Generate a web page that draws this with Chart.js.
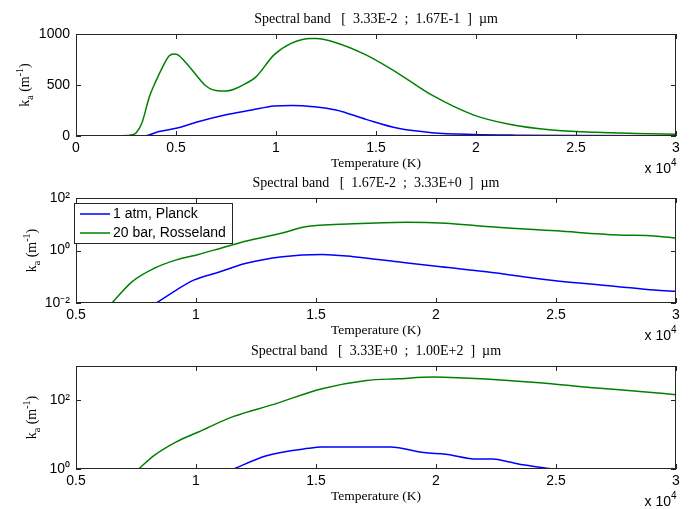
<!DOCTYPE html>
<html>
<head>
<meta charset="utf-8">
<script src="https://cdn.jsdelivr.net/npm/chart.js@4.4.1/dist/chart.umd.min.js"></script>
<style>
    html, body { margin: 0; padding: 0; background: #fff; }
    #wrap { position: relative; width: 691px; height: 509px; overflow: hidden; }
    canvas { position: absolute; left: 0; }
</style>
</head>
<body>
<div id="wrap">
    <canvas id="c1" width="691" height="180" style="top:0px"></canvas>
    <canvas id="c2" width="691" height="185" style="top:160px"></canvas>
    <canvas id="c3" width="691" height="179" style="top:330px"></canvas>
</div>
<script>
// series names
const seriesLabels = ['1 atm, Planck', '20 bar, Rosseland'];
const bandTitles = [
    'Spectral band   [  3.33E-2  ;  1.67E-1  ]  \u00b5m',
    'Spectral band   [  1.67E-2  ;  3.33E+0  ]  \u00b5m',
    'Spectral band   [  3.33E+0  ;  1.00E+2  ]  \u00b5m'
];

// band 1 (linear axis), temperature in K, k_a in 1/m
const t1Planck = [500, 2000, 3500, 4100, 5000, 6100, 7450, 8800, 9900, 10800, 11900, 13000, 14500, 16100, 17800, 19900, 22000, 25000, 30000];
const k1Planck = [0, 0, 3, 42, 75, 140, 206, 255, 294, 300, 287, 255, 163, 75, 33, 15, 8, 4, 2];
const t1Ross = [500, 1000, 2000, 2700, 3000, 3300, 3670, 4000, 4340, 4650, 4900, 5100, 5440, 6000, 6440, 7000, 7500, 7900, 8500, 9000, 9900, 10760, 11750, 12000, 13000, 14500, 16100, 17800, 19900, 21600, 23800, 26000, 28000, 30000];
const k1Ross = [0, 0, 3, 8, 30, 130, 385, 540, 680, 785, 805, 795, 730, 600, 500, 445, 440, 458, 515, 580, 795, 908, 955, 955, 915, 795, 615, 400, 205, 118, 58, 36, 25, 17];

// band 2 (log axis)
const t2Planck = [8350, 9180, 9900, 11000, 12050, 13600, 15250, 16550, 18400, 20200, 22100, 24800, 27600, 29100, 30000];
const k2Planck = [0.01, 0.031, 0.074, 0.155, 0.32, 0.58, 0.71, 0.58, 0.37, 0.24, 0.155, 0.074, 0.042, 0.031, 0.028];
const t2Ross = [6500, 7330, 8260, 9180, 10100, 11000, 12100, 13600, 14500, 16550, 18760, 20400, 22100, 25000, 27600, 29100, 30000];
const k2Ross = [0.01, 0.064, 0.21, 0.44, 0.71, 1.2, 2.3, 4.6, 7.8, 10.4, 12, 11, 8.2, 5.6, 3.9, 3.6, 2.95];

// band 3 (log axis)
const t3Planck = [11570, 12900, 14700, 15250, 18100, 19500, 20400, 21700, 22400, 23000, 23700, 24700, 25000];
const k3Planck = [1, 2.4, 4.0, 4.35, 4.4, 3.0, 2.7, 1.95, 1.94, 1.63, 1.3, 1.04, 0.98];
const t3Ross = [7610, 8260, 9180, 10100, 11570, 13200, 15250, 17100, 18400, 19900, 21150, 23000, 24800, 26700, 28500, 30000];
const k3Ross = [1, 2.5, 6.2, 12, 34, 75, 218, 380, 425, 475, 445, 380, 305, 228, 182, 146];

// axis tick values
const xTicksBand1 = [0, 5000, 10000, 15000, 20000, 25000, 30000];
const xTicksBand23 = [5000, 10000, 15000, 20000, 25000, 30000];
const yTicksBand1 = [0, 500, 1000];
const yTicksBand2 = [0.01, 1, 100];
const yTicksBand3 = [1, 100];

const BLUE = '#0000ff';
const GREEN = '#008000';
const SANS = '"Liberation Sans", Arial, sans-serif';
const SERIF = '"Liberation Serif", "Times New Roman", serif';

const zip = (xs, ys) => xs.map((x, i) => ({ x: x, y: ys[i] }));

const supDigits = { '-': '\u207b', '0': '\u2070', '1': '\u00b9', '2': '\u00b2', '3': '\u00b3' };
const logLabel = v => '10' + String(Math.round(Math.log10(v))).split('').map(c => supDigits[c]).join('');

// draws the matlab-ish frame, inward ticks and all the free text
const decorPlugin = {
    id: 'decor',
    afterDraw(chart, args, opts) {
        const ctx = chart.ctx;
        const a = chart.chartArea;
        const xs = chart.scales.x, ys = chart.scales.y;
        ctx.save();

        ctx.strokeStyle = '#262626';
        ctx.lineWidth = 1;
        ctx.strokeRect(a.left + 0.5, a.top + 0.5, a.right - a.left - 1, a.bottom - a.top - 1);

        ctx.beginPath();
        xs.ticks.forEach(t => {
            const px = Math.round(xs.getPixelForValue(t.value)) + 0.5;
            ctx.moveTo(px, a.bottom); ctx.lineTo(px, a.bottom - 5);
            ctx.moveTo(px, a.top); ctx.lineTo(px, a.top + 5);
        });
        ys.ticks.forEach(t => {
            const py = Math.round(ys.getPixelForValue(t.value)) + 0.5;
            ctx.moveTo(a.left, py); ctx.lineTo(a.left + 5, py);
            ctx.moveTo(a.right, py); ctx.lineTo(a.right - 5, py);
        });
        ctx.stroke();

        const cx = (a.left + a.right) / 2;
        ctx.fillStyle = '#000';
        ctx.textAlign = 'center';
        ctx.textBaseline = 'middle';
        ctx.font = '14px ' + SERIF;
        ctx.fillText(opts.title, cx, a.top - 15);
        ctx.font = '13.5px ' + SERIF;
        ctx.fillText('Temperature (K)', cx, a.bottom + 27);

        // x 10^4 multiplier
        ctx.font = '14px ' + SANS;
        ctx.textAlign = 'right';
        ctx.fillText('x 10', a.right - 5, a.bottom + 33);
        ctx.font = '10px ' + SANS;
        ctx.textAlign = 'left';
        ctx.fillText('4', a.right - 5, a.bottom + 27);

        // y label k_a (m^-1)
        const parts = [
            { s: 'k', f: '14px ' + SERIF, dy: 0 },
            { s: 'a', f: '10px ' + SERIF, dy: 4 },
            { s: ' (m', f: '14px ' + SERIF, dy: 0 },
            { s: '-1', f: '10px ' + SERIF, dy: -6 },
            { s: ')', f: '14px ' + SERIF, dy: 0 }
        ];
        let total = 0;
        parts.forEach(p => { ctx.font = p.f; p.w = ctx.measureText(p.s).width; total += p.w; });
        ctx.translate(opts.yLabelX, (a.top + a.bottom) / 2);
        ctx.rotate(-Math.PI / 2);
        ctx.textAlign = 'left';
        ctx.textBaseline = 'alphabetic';
        let x = -total / 2;
        parts.forEach(p => { ctx.font = p.f; ctx.fillText(p.s, x, p.dy); x += p.w; });
        ctx.setTransform(1, 0, 0, 1, 0, 0);

        if (opts.legend) {
            const lx = a.left - 2, ly = a.top + 5;
            ctx.fillStyle = '#fff';
            ctx.fillRect(lx, ly, 158, 40);
            ctx.strokeStyle = '#262626';
            ctx.lineWidth = 1;
            ctx.strokeRect(lx + 0.5, ly + 0.5, 158, 40);
            ctx.font = '14px ' + SANS;
            ctx.textBaseline = 'middle';
            chart.data.datasets.forEach((ds, i) => {
                const y = ly + 11 + i * 19;
                ctx.strokeStyle = ds.borderColor;
                ctx.lineWidth = 1.5;
                ctx.beginPath();
                ctx.moveTo(lx + 6, y); ctx.lineTo(lx + 36, y);
                ctx.stroke();
                ctx.fillStyle = '#000';
                ctx.fillText(ds.label, lx + 39, y);
            });
        }
        ctx.restore();
    }
};

function makePanel(id, cfg) {
    const canvas = document.getElementById(id);
    return new Chart(canvas, {
        type: 'line',
        data: {
            datasets: [
                { label: seriesLabels[0], data: zip(cfg.tP, cfg.kP), borderColor: BLUE },
                { label: seriesLabels[1], data: zip(cfg.tR, cfg.kR), borderColor: GREEN }
            ].map(d => Object.assign(d, { borderWidth: 1.5, pointRadius: 0, fill: false, cubicInterpolationMode: 'monotone', clip: 0 }))
        },
        options: {
            responsive: false,
            animation: false,
            devicePixelRatio: 1,
            layout: { padding: { top: cfg.top, right: 15, left: 0, bottom: 0 } },
            plugins: {
                legend: { display: false },
                tooltip: { enabled: false },
                decor: { title: cfg.title, legend: cfg.legend, yLabelX: cfg.yLabelX }
            },
            scales: {
                x: {
                    type: 'linear',
                    min: cfg.xTicks[0],
                    max: 30000,
                    grid: { display: false, drawTicks: false },
                    border: { display: false },
                    afterBuildTicks: s => { s.ticks = cfg.xTicks.map(v => ({ value: v })); },
                    afterFit: s => { s.height = canvas.height - cfg.bottom; },
                    ticks: {
                        color: '#000',
                        padding: 4,
                        maxRotation: 0,
                        font: { family: SANS, size: 14 },
                        callback: v => String(v / 10000)
                    }
                },
                y: {
                    type: cfg.log ? 'logarithmic' : 'linear',
                    min: cfg.yMin,
                    max: cfg.yMax,
                    grid: { display: false, drawTicks: false },
                    border: { display: false },
                    afterBuildTicks: s => { s.ticks = cfg.yTicks.map(v => ({ value: v })); },
                    afterFit: s => { s.width = 76; },
                    ticks: {
                        color: '#000',
                        padding: 6,
                        font: { family: SANS, size: 14 },
                        callback: v => cfg.log ? logLabel(v) : String(v)
                    }
                }
            }
        },
        plugins: [decorPlugin]
    });
}

makePanel('c1', { tP: t1Planck, kP: k1Planck, tR: t1Ross, kR: k1Ross, title: bandTitles[0], log: false,
    yMin: 0, yMax: 1000, yTicks: yTicksBand1, xTicks: xTicksBand1, top: 34, bottom: 136, legend: false, yLabelX: 29 });
makePanel('c2', { tP: t2Planck, kP: k2Planck, tR: t2Ross, kR: k2Ross, title: bandTitles[1], log: true,
    yMin: 0.01, yMax: 100, yTicks: yTicksBand2, xTicks: xTicksBand23, top: 38, bottom: 143, legend: true, yLabelX: 36 });
makePanel('c3', { tP: t3Planck, kP: k3Planck, tR: t3Ross, kR: k3Ross, title: bandTitles[2], log: true,
    yMin: 1, yMax: 1000, yTicks: yTicksBand3, xTicks: xTicksBand23, top: 36, bottom: 139, legend: false, yLabelX: 36 });
</script>
</body>
</html>
